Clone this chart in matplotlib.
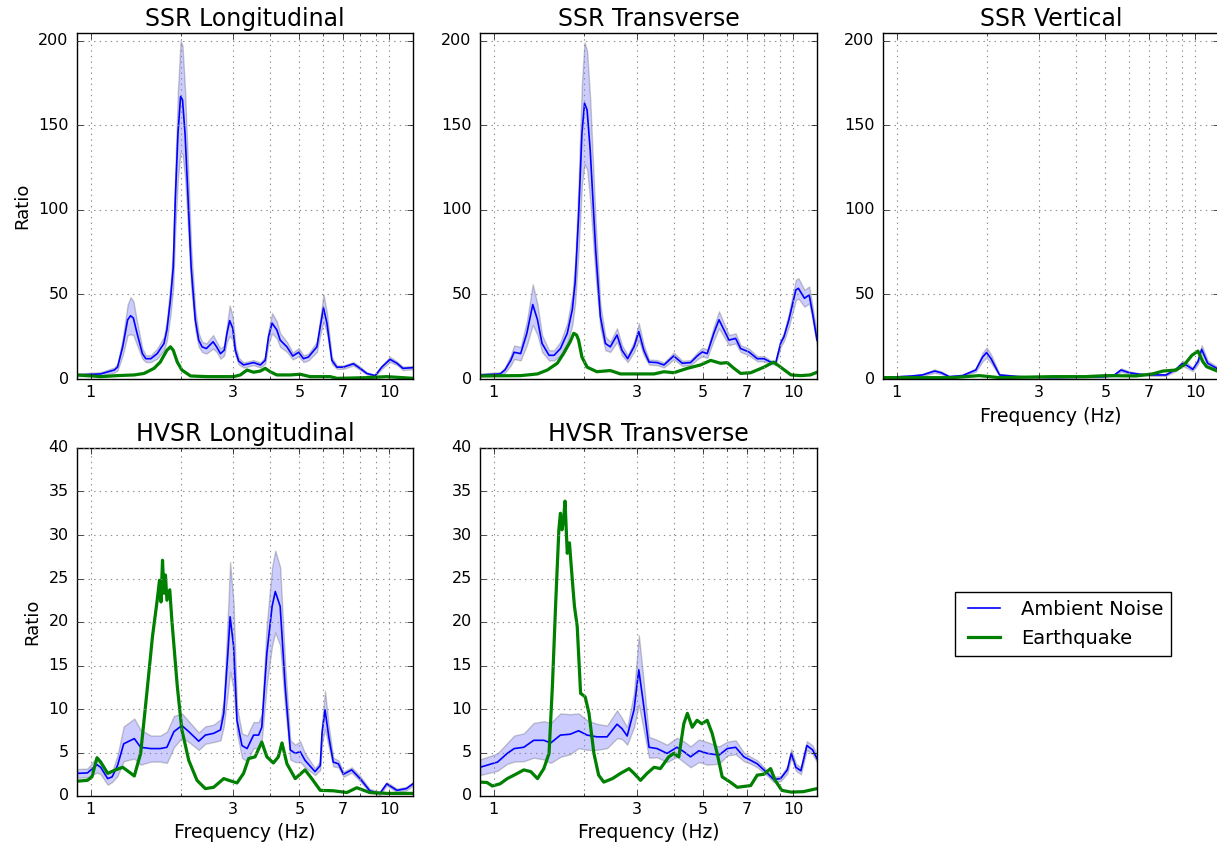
import matplotlib
matplotlib.use('Agg')
from matplotlib import pyplot as plt
from matplotlib.ticker import NullFormatter, FixedLocator
import numpy as np

plt.style.use('classic')

# ---- SSR Longitudinal ----
f_ssr_l = [0.90, 1.08, 1.20, 1.23, 1.28, 1.33, 1.36, 1.39, 1.43, 1.49, 1.53, 1.59, 1.67, 1.76, 1.80,
           1.85, 1.89, 1.92, 1.96, 2.00, 2.03, 2.07, 2.12, 2.17, 2.24, 2.30, 2.36, 2.44, 2.57, 2.64,
           2.72, 2.80, 2.86, 2.92, 2.99, 3.05, 3.13, 3.25, 3.51, 3.70, 3.84, 3.94, 4.05, 4.20, 4.31,
           4.54, 4.75, 4.97, 5.16, 5.36, 5.72, 5.87, 6.02, 6.18, 6.42, 6.67, 7.02, 7.58, 7.98, 8.40,
           8.96, 9.43, 10.05, 10.6, 11.1, 12.0]
noise_ssr_l = [2.4, 3, 5.3, 7, 19, 35, 37.4, 36, 27, 15, 12, 12, 15, 21, 29,
               47, 66, 106, 145, 167, 165, 145, 106, 66, 35, 23, 19, 18, 22, 19,
               15, 17, 27, 34.5, 30, 17, 10.6, 8.3, 9.7, 8.3, 11, 25, 33, 29, 23,
               19, 13.6, 15.8, 12, 13, 19, 31, 42, 33, 11, 7, 7, 9, 6.3, 3.3,
               2, 7, 11.6, 9.3, 6.3, 6.7]
spread_ssr_l = [0.8, 1, 1.5, 2, 5, 9, 11, 10, 7, 3, 2, 2, 3, 4, 6,
                9, 12, 18, 26, 33, 32, 26, 18, 12, 6, 4, 3, 3, 4, 3,
                3, 3, 5, 9, 7, 3, 2, 1.5, 1.5, 1.5, 2, 4, 6, 5, 4,
                3, 2, 2.5, 2, 2, 3, 5, 8, 6, 2, 1, 1, 1, 1, 0.6,
                0.5, 1, 1.5, 1, 1, 1]
fq_ssr_l = [0.90, 1.08, 1.23, 1.40, 1.51, 1.63, 1.71, 1.80, 1.85, 1.89, 1.95, 2.02, 2.16, 2.45, 3.01,
            3.17, 3.34, 3.51, 3.70, 3.84, 3.99, 4.20, 4.66, 5.03, 5.43, 6.34, 6.67, 8.40, 9.80, 12.0]
quake_ssr_l = [2.4, 1.4, 2, 2.4, 3.3, 6.3, 10, 17, 19, 17, 10, 5.3, 1.8, 1.4, 1.4,
               2.4, 5.3, 4, 4.7, 6.3, 4.3, 2.4, 2.4, 2.8, 1.4, 1.4, 0.4, 0.8, 1.4, 0.4]

# ---- SSR Transverse ----
f_ssr_t = [0.90, 1.05, 1.09, 1.14, 1.17, 1.23, 1.29, 1.35, 1.40, 1.45, 1.53, 1.59, 1.67, 1.76, 1.83,
           1.87, 1.92, 1.97, 2.01, 2.05, 2.10, 2.19, 2.27, 2.36, 2.45, 2.58, 2.68, 2.80, 2.94, 3.05,
           3.17, 3.30, 3.51, 3.70, 3.99, 4.26, 4.54, 4.78, 4.97, 5.16, 5.43, 5.65, 5.87, 6.10, 6.42,
           6.67, 7.11, 7.58, 7.98, 8.40, 8.73, 9.07, 9.31, 9.67, 10.2, 10.4, 10.9, 11.3, 11.6, 12.0]
noise_ssr_t = [2.4, 3, 5.3, 11, 15.8, 15, 27, 44, 35, 21, 14, 14, 18, 27, 41,
               57, 96, 145, 163, 159, 135, 76, 37, 21, 19, 26, 17, 12, 19, 28,
               17, 10, 9.7, 8.3, 13.6, 9.3, 9.7, 13.6, 16, 15, 27, 35, 29, 23, 24,
               18, 16, 12, 12, 10, 9.3, 21, 25, 35, 52.6, 53.6, 47.7, 49.7, 38.8, 23]
spread_ssr_t = [0.8, 1, 1.5, 3, 4, 4, 7, 12, 9, 5, 3, 3, 4, 6, 9,
                12, 20, 30, 36, 35, 30, 16, 7, 4, 3, 4, 3, 2, 3, 5,
                3, 1.5, 1.5, 1.5, 2, 1.5, 1.5, 2, 2.5, 2.5, 4, 5, 4, 3, 3,
                2, 2, 1.5, 1.5, 1, 1, 2, 2.5, 4, 6, 6, 5, 5, 4, 3]
fq_ssr_t = [0.90, 1.23, 1.40, 1.51, 1.63, 1.71, 1.80, 1.85, 1.89, 1.92, 1.97, 2.05, 2.21, 2.45, 2.65,
            3.43, 3.70, 3.99, 4.43, 4.90, 5.30, 5.72, 6.02, 6.34, 6.67, 7.21, 7.98, 8.60, 9.07, 9.83,
            10.6, 11.4, 12.0]
quake_ssr_t = [1.8, 2, 3, 5.3, 9.3, 15, 22, 27, 26, 23, 13, 7, 4.3, 5, 3,
               3, 4.3, 3.7, 6.3, 8.3, 11, 9.3, 9.7, 6.3, 3.3, 3.7, 7, 10, 7, 2.4,
               2, 2.4, 4]

# ---- SSR Vertical ----
f_ssr_v = [0.90, 1.13, 1.22, 1.34, 1.41, 1.50, 1.66, 1.84, 1.94, 2.00, 2.07, 2.21, 2.57, 3.33, 5.02,
           5.36, 5.64, 6.01, 6.49, 7.02, 7.98, 8.61, 9.07, 9.43, 9.80, 10.2, 10.5, 11.0, 12.1]
noise_ssr_v = [0.8, 1.8, 2.4, 4.7, 3.7, 1.4, 2, 5.3, 13, 15.6, 12, 2.4, 1.4, 0.8, 1.4,
               2.4, 5.3, 3.7, 2.8, 2.4, 2.4, 5.7, 9.3, 7.7, 5.7, 10.2, 17.5, 9.3, 5.2]
spread_ssr_v = [0.3, 0.5, 0.6, 1, 0.8, 0.4, 0.5, 1, 2.5, 3, 2.5, 0.5, 0.4, 0.3, 0.4,
                0.6, 1, 0.8, 0.6, 0.5, 0.5, 1, 1.5, 1.5, 1, 1.5, 2.5, 1.5, 1]
fq_ssr_v = [0.90, 1.54, 1.89, 2.21, 3.33, 4.30, 5.02, 6.33, 7.19, 7.79, 8.61, 9.17, 9.74, 10.2, 10.6,
            10.9, 12.1]
quake_ssr_v = [0.8, 0.8, 2, 0.8, 1.4, 1.4, 2, 1.8, 3, 4.7, 5.3, 8.3, 14, 16.5, 10.2, 7.3, 4.0]

# ---- HVSR Longitudinal ----
f_hv_l = [0.90, 0.975, 1.05, 1.08, 1.14, 1.18, 1.23, 1.29, 1.40, 1.47, 1.59, 1.71, 1.80, 1.90, 2.02,
          2.13, 2.30, 2.42, 2.58, 2.72, 2.79, 2.88, 2.93, 3.01, 3.09, 3.21, 3.34, 3.51, 3.65, 3.74,
          3.89, 4.05, 4.15, 4.31, 4.48, 4.66, 4.84, 5.03, 5.22, 5.64, 5.87, 5.95, 6.09, 6.27, 6.49,
          6.75, 7.02, 7.48, 7.98, 8.60, 9.30, 9.80, 10.6, 11.4, 12.0]
noise_hv_l = [2.6, 2.65, 3.6, 3.3, 2.0, 2.2, 3.5, 6.0, 6.6, 5.6, 5.45, 5.45, 5.6, 7.4, 8.1,
              7.4, 6.3, 7.0, 7.2, 7.6, 9.5, 16.4, 20.6, 17.2, 8.7, 5.8, 5.45, 7.0, 7.0, 7.9,
              16.4, 21.8, 23.5, 21.8, 12.6, 5.3, 4.9, 5.1, 4.1, 2.8, 3.5, 7.2, 9.9, 6.8, 3.9,
              3.7, 2.5, 3.0, 2.0, 0.6, 0.3, 1.4, 0.65, 0.85, 1.4]
spread_hv_l = [0.5, 0.5, 0.9, 0.8, 0.7, 0.6, 1.2, 2.0, 2.3, 2.0, 1.5, 1.5, 1.8, 1.8, 1.4,
               1.2, 1.0, 1.0, 1.0, 1.2, 1.5, 4.5, 6.3, 5, 1.5, 1.4, 1.5, 1.5, 1.5, 1.5,
               3.5, 4.5, 4.7, 4.5, 2.5, 1.1, 1.0, 1.2, 0.8, 0.4, 0.5, 1.2, 2.2, 1.2, 0.5,
               0.4, 0.3, 0.3, 0.3, 0.2, 0.2, 0.2, 0.2, 0.2, 0.2]
fq_hv_l = [0.90, 0.975, 1.01, 1.05, 1.08, 1.14, 1.21, 1.28, 1.34, 1.40, 1.47, 1.55, 1.61, 1.67, 1.70,
           1.72, 1.74, 1.76, 1.78, 1.80, 1.84, 1.87, 1.95, 2.02, 2.13, 2.27, 2.42, 2.58, 2.79, 2.90,
           3.09, 3.25, 3.38, 3.55, 3.74, 3.89, 4.09, 4.25, 4.37, 4.54, 4.84, 5.22, 5.50, 5.87, 6.49,
           7.21, 7.78, 8.60, 9.80, 12.0]
quake_hv_l = [1.7, 1.8, 2.2, 4.4, 3.9, 2.6, 3.0, 3.3, 2.8, 2.3, 4.9, 12.6, 18.3, 22.5, 24.8,
              22.3, 27.1, 23.3, 25.4, 22.5, 23.7, 20.2, 12.6, 7.6, 4.1, 1.8, 0.85, 1.0, 2.0, 1.8,
              1.5, 2.6, 4.3, 4.5, 6.2, 4.5, 3.8, 4.5, 6.1, 3.7, 2.0, 3.0, 2.0, 0.65, 0.6,
              0.4, 0.95, 0.4, 0.3, 0.3]

# ---- HVSR Transverse ----
f_hv_t = [0.90, 1.03, 1.11, 1.17, 1.26, 1.36, 1.47, 1.55, 1.67, 1.80, 1.92, 2.05, 2.21, 2.39, 2.58,
          2.68, 2.79, 2.94, 3.05, 3.15, 3.30, 3.51, 3.79, 4.09, 4.31, 4.54, 4.84, 5.16, 5.65, 6.02,
          6.42, 6.84, 7.21, 7.58, 8.18, 8.60, 9.07, 9.55, 9.85, 10.2, 10.6, 11.1, 11.6, 12.0]
noise_hv_t = [3.3, 3.9, 4.9, 5.45, 5.6, 6.4, 6.4, 6.1, 7.0, 7.1, 7.5, 7.0, 6.8, 6.8, 8.25,
              7.75, 6.9, 9.9, 14.5, 11.0, 5.6, 5.45, 4.9, 5.6, 5.1, 4.5, 5.2, 4.9, 4.7, 5.45,
              5.6, 4.5, 4.1, 3.7, 2.65, 1.9, 2.0, 3.0, 4.9, 3.3, 2.9, 5.8, 5.3, 4.3]
spread_hv_t = [0.9, 1.0, 1.2, 1.5, 1.6, 2.0, 2.2, 2.3, 2.5, 2.3, 2.0, 1.7, 1.5, 1.3, 1.6,
               1.2, 1.0, 2, 4, 3, 1.2, 1.0, 1.0, 1.1, 1.2, 1.2, 1.3, 1.3, 1.0, 0.8,
               0.8, 0.5, 0.4, 0.4, 0.3, 0.3, 0.3, 0.4, 0.5, 0.4, 0.4, 0.5, 0.5, 0.4]
fq_hv_t = [0.90, 0.95, 0.99, 1.05, 1.11, 1.20, 1.26, 1.33, 1.40, 1.47, 1.53, 1.57, 1.61, 1.65, 1.67,
           1.69, 1.71, 1.73, 1.76, 1.79, 1.83, 1.86, 1.90, 1.95, 2.02, 2.08, 2.16, 2.24, 2.33, 2.49,
           2.65, 2.83, 2.94, 3.09, 3.25, 3.43, 3.60, 3.84, 3.99, 4.15, 4.31, 4.43, 4.60, 4.77, 4.95,
           5.16, 5.36, 5.57, 5.79, 6.16, 6.50, 7.21, 7.58, 7.98, 8.40, 8.70, 9.15, 9.83, 10.8, 12.0]
quake_hv_t = [1.6, 1.55, 1.15, 1.4, 2.0, 2.6, 3.0, 2.8, 2.0, 3.15, 4.9, 12.6, 22.1, 30.6, 32.5,
              30.6, 31.7, 33.9, 27.9, 29.1, 24.8, 21.8, 19.5, 11.8, 11.4, 9.5, 4.9, 2.4, 1.6, 2.0,
              2.6, 3.15, 2.6, 1.8, 2.6, 3.3, 3.15, 4.5, 4.9, 4.5, 8.3, 9.5, 7.9, 8.7, 8.3,
              8.7, 7.2, 4.9, 2.2, 1.6, 1.0, 1.2, 2.4, 2.5, 3.15, 1.8, 0.65, 0.45, 0.5, 0.85]

xticks = [1, 3, 5, 7, 10]
xticklabels = ['1', '3', '5', '7', '10']
minor_ticks = [2, 4, 6, 8, 9]

W, H = 1217.0, 852.0


def panel(rect, title, f, noise, spread, fq, quake, ymax, yticks, ylabel=False, xlabel=False):
    l, t, r, b = rect
    ax = fig.add_axes([l / W, 1 - b / H, (r - l) / W, (b - t) / H])
    f = np.array(f)
    noise = np.array(noise)
    spread = np.array(spread)
    ax.fill_between(f, noise - spread, noise + spread, facecolor='b', edgecolor='k',
                    alpha=0.2, linewidth=1)
    ax.plot(f, noise, 'b-', lw=1.2, label='Ambient Noise')
    ax.plot(fq, quake, 'g-', lw=2.3, label='Earthquake')
    ax.set_xscale('log')
    ax.set_xlim(0.9, 12.0)
    ax.set_ylim(0, ymax)
    ax.xaxis.set_major_locator(FixedLocator(xticks))
    ax.set_xticklabels(xticklabels)
    ax.xaxis.set_minor_locator(FixedLocator(minor_ticks))
    ax.xaxis.set_minor_formatter(NullFormatter())
    ax.set_yticks(yticks)
    ax.grid(True, which='both', linestyle=(0, (1, 3)), color='0.55', linewidth=0.8)
    ax.tick_params(labelsize=11.5)
    ax.tick_params(axis='y', pad=6)
    ax.set_title(title, fontsize=17)
    if ylabel:
        ax.set_ylabel('Ratio', fontsize=13)
    if xlabel:
        ax.set_xlabel('Frequency (Hz)', fontsize=13.5)
    return ax


fig = plt.figure(figsize=(12.17, 8.52), dpi=100, facecolor='white')

ssr_ticks = [0, 50, 100, 150, 200]
hv_ticks = [0, 5, 10, 15, 20, 25, 30, 35, 40]

panel((77, 33, 413, 379), 'SSR Longitudinal', f_ssr_l, noise_ssr_l, spread_ssr_l,
      fq_ssr_l, quake_ssr_l, 204.5, ssr_ticks, ylabel=True)
panel((480, 33, 817, 379), 'SSR Transverse', f_ssr_t, noise_ssr_t, spread_ssr_t,
      fq_ssr_t, quake_ssr_t, 204.5, ssr_ticks)
panel((883, 33, 1219, 379), 'SSR Vertical', f_ssr_v, noise_ssr_v, spread_ssr_v,
      fq_ssr_v, quake_ssr_v, 204.5, ssr_ticks, xlabel=True)
panel((77, 448, 413, 796), 'HVSR Longitudinal', f_hv_l, noise_hv_l, spread_hv_l,
      fq_hv_l, quake_hv_l, 40, hv_ticks, ylabel=True, xlabel=True)
ax5 = panel((480, 448, 817, 796), 'HVSR Transverse', f_hv_t, noise_hv_t, spread_hv_t,
            fq_hv_t, quake_hv_t, 40, hv_ticks, xlabel=True)

handles, labels = ax5.get_legend_handles_labels()
fig.legend(handles, labels, loc='center', bbox_to_anchor=(1063 / W, 1 - 624 / H),
           fontsize=14, frameon=True, fancybox=False, handlelength=2.2)

fig.savefig('out.png', dpi=100, facecolor='white')
